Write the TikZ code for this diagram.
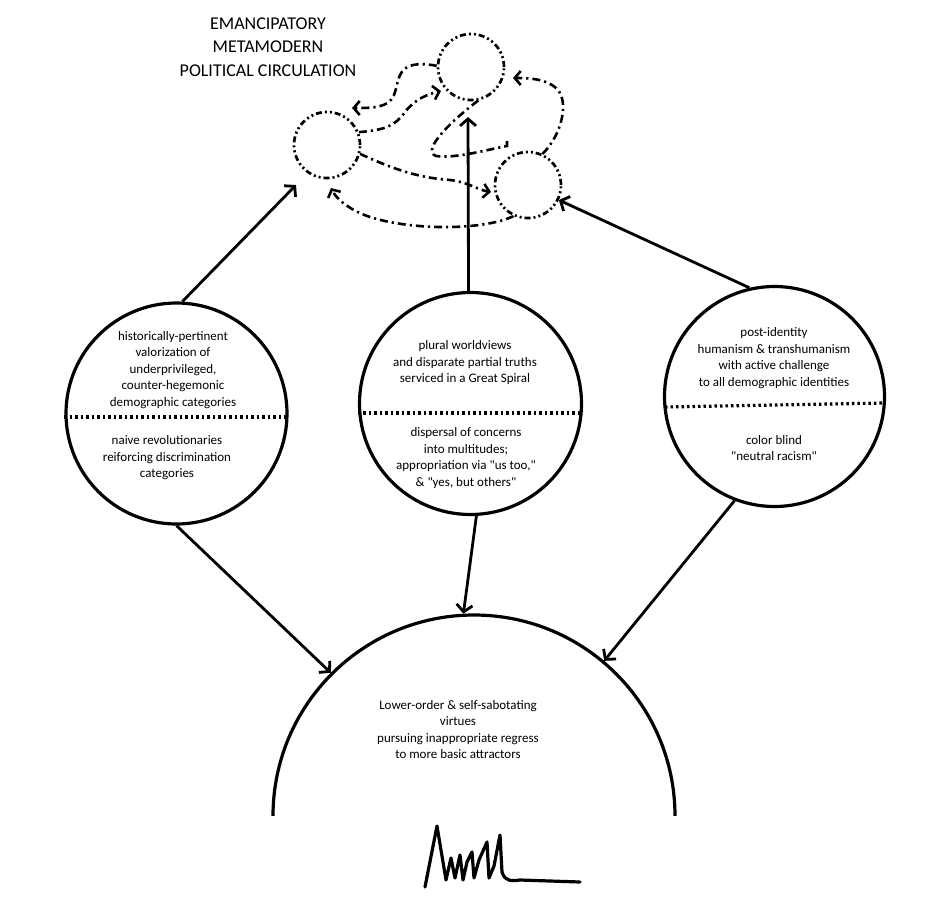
\documentclass[tikz,border=0pt]{standalone}
\usepackage{fontspec}
\setmainfont{Carlito}[Ligatures=TeXOff]
\usetikzlibrary{arrows.meta}
\begin{document}
\begin{tikzpicture}[x=1pt,y=-1pt,
  bigcirc/.style={circle,draw,line width=3.2pt,inner sep=0pt},
  smallcirc/.style={circle,draw,line width=2.7pt,inner sep=0pt,minimum size=66pt,
    dash pattern=on 6pt off 3pt on 2pt off 3pt on 2pt off 3pt},
  flow/.style={line width=2.8pt,-{Straight Barb[length=7pt,width=16pt,line width=2.8pt]}},
  loopy/.style={line width=2.6pt,dash pattern=on 8pt off 4pt on 2.2pt off 4pt,
    -{Straight Barb[length=6pt,width=14pt,line width=2.6pt]}},
  sep/.style={line width=3.2pt,dash pattern=on 2.5pt off 3pt},
  txt/.style={align=center,font=\fontsize{13}{16.5}\selectfont,inner sep=0pt},
  ttl/.style={align=center,font=\fontsize{18}{23.5}\selectfont,inner sep=0pt}
]
\useasboundingbox[fill=white] (0,0) rectangle (943,916);

% title
\node[ttl] (title) at (268,47) {EMANCIPATORY\\METAMODERN\\POLITICAL CIRCULATION};

% small circulation circles
\node[smallcirc] (A) at (327,145) {};
\node[smallcirc] (B) at (471,67) {};
\node[smallcirc] (C) at (528,185) {};

% main circles
\node[bigcirc,minimum size=221pt] (L) at (176.5,413.5) {};
\node[bigcirc,minimum size=222pt] (M) at (470.5,403.5) {};
\node[bigcirc,minimum size=220pt] (R) at (774.5,396.5) {};
\begin{scope}
  \clip (0,0) rectangle (943,815);
  \node[bigcirc,minimum size=402pt] (D) at (474,816) {};
\end{scope}

% separators
\draw[sep] (L.west |- 0,417) -- (L.east |- 0,417);
\draw[sep] (M.west |- 0,413) -- (M.east |- 0,413);
\draw[sep] (665,407) -- (884,403);

% texts
\node[txt] (Lt) at (173,370) {historically-pertinent\\valorization of\\underprivileged,\\counter-hegemonic\\demographic categories};
\node[txt] (Lb) at (167,458) {naive revolutionaries\\reiforcing discrimination\\categories};
\node[txt] (Mt) at (465,363) {plural worldviews\\and disparate partial truths\\serviced in a Great Spiral};
\node[txt] (Mb) at (466,458) {dispersal of concerns\\into multitudes;\\appropriation via "us too,"\\\& "yes, but others"};
\node[txt] (Rt) at (774,358) {post-identity\\humanism \& transhumanism\\with active challenge\\to all demographic identities};
\node[txt] (Rb) at (774,448) {color blind\\"neutral racism"};
\node[txt] (Dt) at (458,729.5) {Lower-order \& self-sabotating\\virtues\\pursuing inappropriate regress\\to more basic attractors};

% arrow targets near the cluster
\coordinate (tipL) at (296,185);
\coordinate (tipM) at (468,117);

% upward arrows
\draw[flow] (L.87) -- (tipL);
\draw[flow] (M.91) -- (tipM);
\draw[flow] (R.103) -- (C.-26);

% downward arrows
\draw[flow] (L.-90) -- (D.135.5);
\draw[flow] (M.-87) -- (D.93);
\draw[flow] (R.-111) -- (D.50);

% circulation curves
\draw[loopy] (B.178) .. controls (395,58) and (400,80) .. (394,95)
  .. controls (389,108) and (372,108) .. (352,108);
\draw[loopy] (A.22) .. controls (385,130) and (395,126) .. (405,112)
  .. controls (415,99) and (428,94) .. (441,91);
\draw[loopy] (A.-15) .. controls (395,170) and (420,178) .. (450,180)
  .. controls (468,182) and (478,190) .. (491,192);
\draw[loopy] (C.-115) .. controls (480,232) and (400,230) .. (362,214)
  .. controls (346,207) and (336,198) .. (331,188);
\draw[loopy] (C.65) .. controls (562,135) and (570,100) .. (556,88)
  .. controls (546,79) and (530,78) .. (513,78);
\draw[line width=2.6pt,dash pattern=on 8pt off 4pt on 2.2pt off 4pt]
  (B.-78) .. controls (455,118) and (420,150) .. (436,156)
  .. controls (455,159) and (490,149) .. (507,146) -- (507,138);

% signature
\draw[line width=3.2pt,line cap=round,line join=round]
  (425,887) -- (437,826) -- (441,850) -- (446,880) -- (451,858) -- (455,878)
  -- (460,855) -- (463,880) -- (467,862) -- (472,852) -- (474,878)
  -- (479,860) -- (487,842) -- (489,878) -- (494,866) -- (500,835)
  -- (502,872) .. controls (505,882) and (512,881) .. (520,880) -- (580,882);
\end{tikzpicture}
\end{document}
